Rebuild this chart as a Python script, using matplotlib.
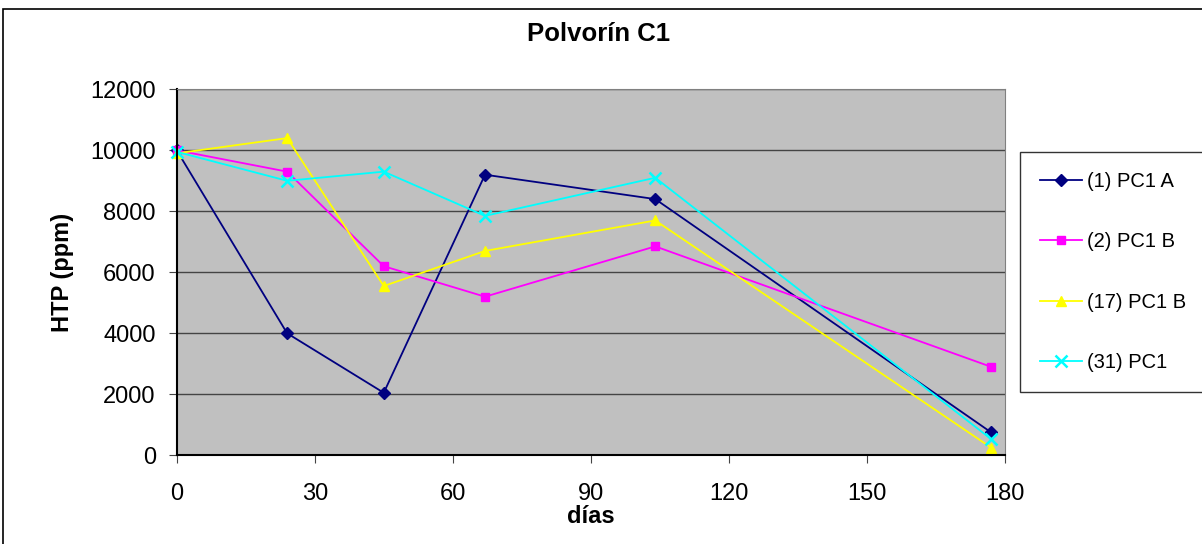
import matplotlib
matplotlib.use("Agg")
import matplotlib.pyplot as plt
from matplotlib.patches import Rectangle

plt.rcParams['font.family'] = ['Liberation Sans', 'DejaVu Sans']

# data
dias = [0, 24, 45, 67, 104, 177]
pc1_a = [10000, 4000, 2050, 9200, 8400, 750]
pc1_b = [10000, 9300, 6200, 5200, 6850, 2900]
pc1_b17 = [9900, 10400, 5550, 6700, 7700, 250]
pc1_31 = [9950, 9000, 9300, 7850, 9100, 530]

series = [
    ("(1) PC1 A", pc1_a, "#000080", "D", 6),
    ("(2) PC1 B", pc1_b, "#FF00FF", "s", 6),
    ("(17) PC1 B", pc1_b17, "#FFFF00", "^", 7),
    ("(31) PC1", pc1_31, "#00FFFF", "x", 8),
]

W, H = 1202, 544
fig = plt.figure(figsize=(W / 100, H / 100), dpi=100)

# outer chart frame
fig.patches.append(Rectangle((3 / W, -0.1), 1.2, 1 - 9 / H + 0.1, transform=fig.transFigure,
                             fill=False, edgecolor="black", linewidth=1.2))

ax = fig.add_axes([176.7 / W, 1 - 455.3 / H, (1005 - 176.7) / W, (455.3 - 89.3) / H])
ax.set_facecolor("#C0C0C0")

for label, vals, col, mk, ms in series:
    ax.plot(dias, vals, color=col, marker=mk, markersize=ms, linewidth=1.3,
            markeredgewidth=1.8 if mk == "x" else 1, markeredgecolor=col,
            label=label, clip_on=False)

ax.set_xlim(0, 180)
ax.set_ylim(0, 12000)
ax.set_xticks(range(0, 181, 30))
ax.set_yticks(range(0, 12001, 2000))
ax.yaxis.grid(True, color="#444444", linewidth=1)
ax.set_axisbelow(True)
ax.tick_params(labelsize=17, length=6, color="#444444")
ax.tick_params(axis="y", pad=9)
ax.tick_params(axis="x", pad=14)

for s in ["top", "right"]:
    ax.spines[s].set_color("#808080")
for s in ["left", "bottom"]:
    ax.spines[s].set_color("black")
    ax.spines[s].set_linewidth(1.5)

ax.set_xlabel("días", fontsize=17, fontweight="bold", labelpad=0)
ax.set_ylabel("HTP (ppm)", fontsize=17, fontweight="bold", labelpad=12)
fig.text(599 / W, 1 - 34 / H, "Polvorín C1", fontsize=18.5, fontweight="bold",
         ha="center", va="center")

leg = fig.legend(loc="upper left", bbox_to_anchor=(1020 / W, 1 - 152 / H),
                 fontsize=14.5, frameon=True, fancybox=False, edgecolor="black",
                 labelspacing=2.05, handlelength=2.1, handletextpad=0.25,
                 borderpad=1.0, borderaxespad=0)
leg.get_frame().set_linewidth(1)

fig.savefig("out.png", dpi=100)
